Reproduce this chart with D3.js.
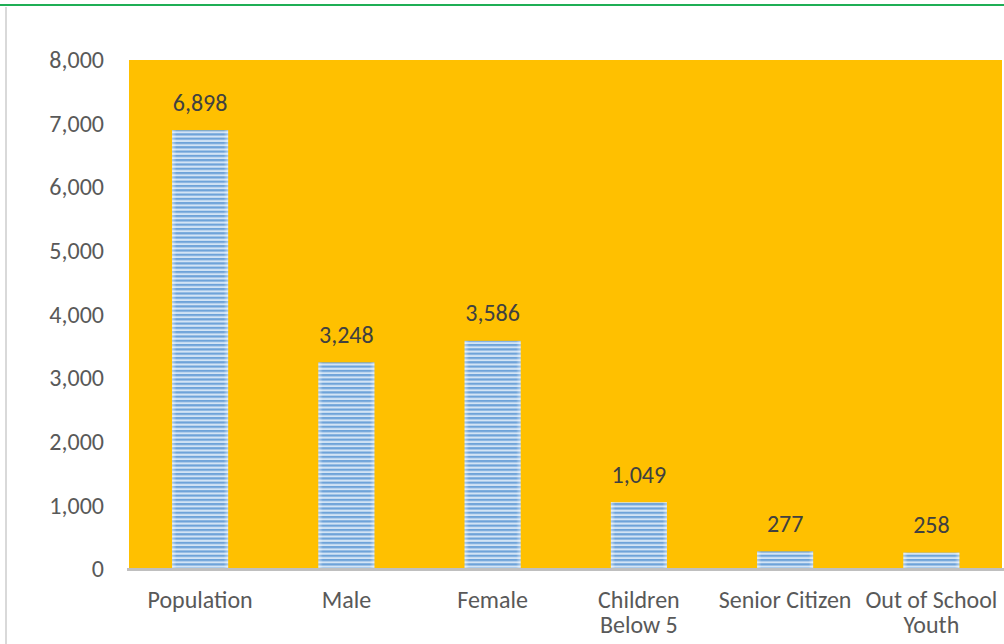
<!DOCTYPE html>
<html>
<head>
<meta charset="utf-8">
<script src="https://cdn.jsdelivr.net/npm/d3@7/dist/d3.min.js"></script>
<style>
  body { margin: 0; background: #fff; }
  svg { display: block; font-family: Carlito, Lato, "Open Sans", sans-serif; }
</style>
</head>
<body>
<div class="bar-chart"></div>
<script>
const categories = ["Population", "Male", "Female", "Children Below 5", "Senior Citizen", "Out of School Youth"];
const values = [6898, 3248, 3586, 1049, 277, 258];
const yTicks = [0, 1000, 2000, 3000, 4000, 5000, 6000, 7000, 8000];

const width = 1004;
const height = 644;
const margin = {top: 60, right: 2, bottom: 73, left: 129};
const fontSize = 24;

const svg = d3.select('.bar-chart').append('svg')
    .attr('width', width)
    .attr('height', height);

// frame bits
svg.append('rect').attr('x', 0).attr('y', 4).attr('width', width).attr('height', 2).attr('fill', '#1fae55');
svg.append('rect').attr('x', 5).attr('y', 7).attr('width', 2).attr('height', height - 7).attr('fill', '#d9d9d9');

const defs = svg.append('defs');
const pat = defs.append('pattern')
    .attr('id', 'stripes')
    .attr('patternUnits', 'userSpaceOnUse')
    .attr('width', 8).attr('height', 4.3);
pat.append('rect').attr('width', 8).attr('height', 4.3).attr('fill', '#d3e4f5');
pat.append('rect').attr('y', 0).attr('width', 8).attr('height', 2.2).attr('fill', '#6ea3d9');

const edge = defs.append('linearGradient').attr('id', 'edge');
edge.append('stop').attr('offset', '0%').attr('stop-color', '#fff').attr('stop-opacity', 0.45);
edge.append('stop').attr('offset', '8%').attr('stop-color', '#fff').attr('stop-opacity', 0);
edge.append('stop').attr('offset', '92%').attr('stop-color', '#fff').attr('stop-opacity', 0);
edge.append('stop').attr('offset', '100%').attr('stop-color', '#fff').attr('stop-opacity', 0.45);

const x = d3.scaleBand()
    .domain(categories)
    .range([127, 1004.5])
    .paddingInner(0.617)
    .paddingOuter(0.3085);

const y = d3.scaleLinear()
    .domain([0, 8000])
    .range([height - margin.bottom - 2, margin.top]);

// plot area
svg.append('rect')
    .attr('x', margin.left)
    .attr('y', y(8000))
    .attr('width', width - margin.right - margin.left)
    .attr('height', y(0) - y(8000))
    .attr('fill', '#ffc000');

// y axis labels
svg.append('g')
    .attr('transform', `translate(${margin.left - 25},0)`)
    .call(d3.axisLeft(y).tickValues(yTicks).tickSize(0).tickPadding(0).tickFormat(d3.format(',')))
    .attr('font-size', fontSize)
    .attr('font-family', 'Carlito, Lato, "Open Sans", sans-serif')
    .call(g => g.select('.domain').remove())
    .selectAll('text')
    .attr('fill', '#595959');

// bars
const bars = svg.append('g').selectAll('g')
    .data(values)
    .join('g');

bars.append('rect')
    .attr('x', (d, i) => x(categories[i]))
    .attr('y', d => y(d))
    .attr('width', x.bandwidth())
    .attr('height', d => y(0) - y(d))
    .attr('fill', 'url(#stripes)');

bars.append('rect')
    .attr('x', (d, i) => x(categories[i]))
    .attr('y', d => y(d))
    .attr('width', x.bandwidth())
    .attr('height', d => y(0) - y(d))
    .attr('fill', 'url(#edge)');

bars.append('text')
    .attr('x', (d, i) => x(categories[i]) + x.bandwidth() / 2)
    .attr('y', d => y(d) - 19.5)
    .attr('text-anchor', 'middle')
    .attr('fill', '#404040')
    .attr('font-size', fontSize)
    .text(d => d3.format(',')(d));

// x axis line
svg.append('rect')
    .attr('x', margin.left - 2)
    .attr('y', y(0) - 1)
    .attr('width', width - margin.left + 2)
    .attr('height', 3)
    .attr('fill', '#bfbfbf');

// category labels (wrapped like the original)
const wrap = {"Children Below 5": ["Children", "Below 5"], "Out of School Youth": ["Out of School", "Youth"]};
const lab = svg.append('g').selectAll('text')
    .data(categories)
    .join('text')
    .attr('x', d => x(d) + x.bandwidth() / 2)
    .attr('y', y(0) + 39)
    .attr('text-anchor', 'middle')
    .attr('fill', '#595959')
    .attr('font-size', fontSize);

lab.each(function(d) {
    const lines = wrap[d] || [d];
    d3.select(this).selectAll('tspan')
        .data(lines)
        .join('tspan')
        .attr('x', x(d) + x.bandwidth() / 2)
        .attr('dy', (l, i) => i ? 25 : 0)
        .text(l => l);
});
</script>
</body>
</html>
